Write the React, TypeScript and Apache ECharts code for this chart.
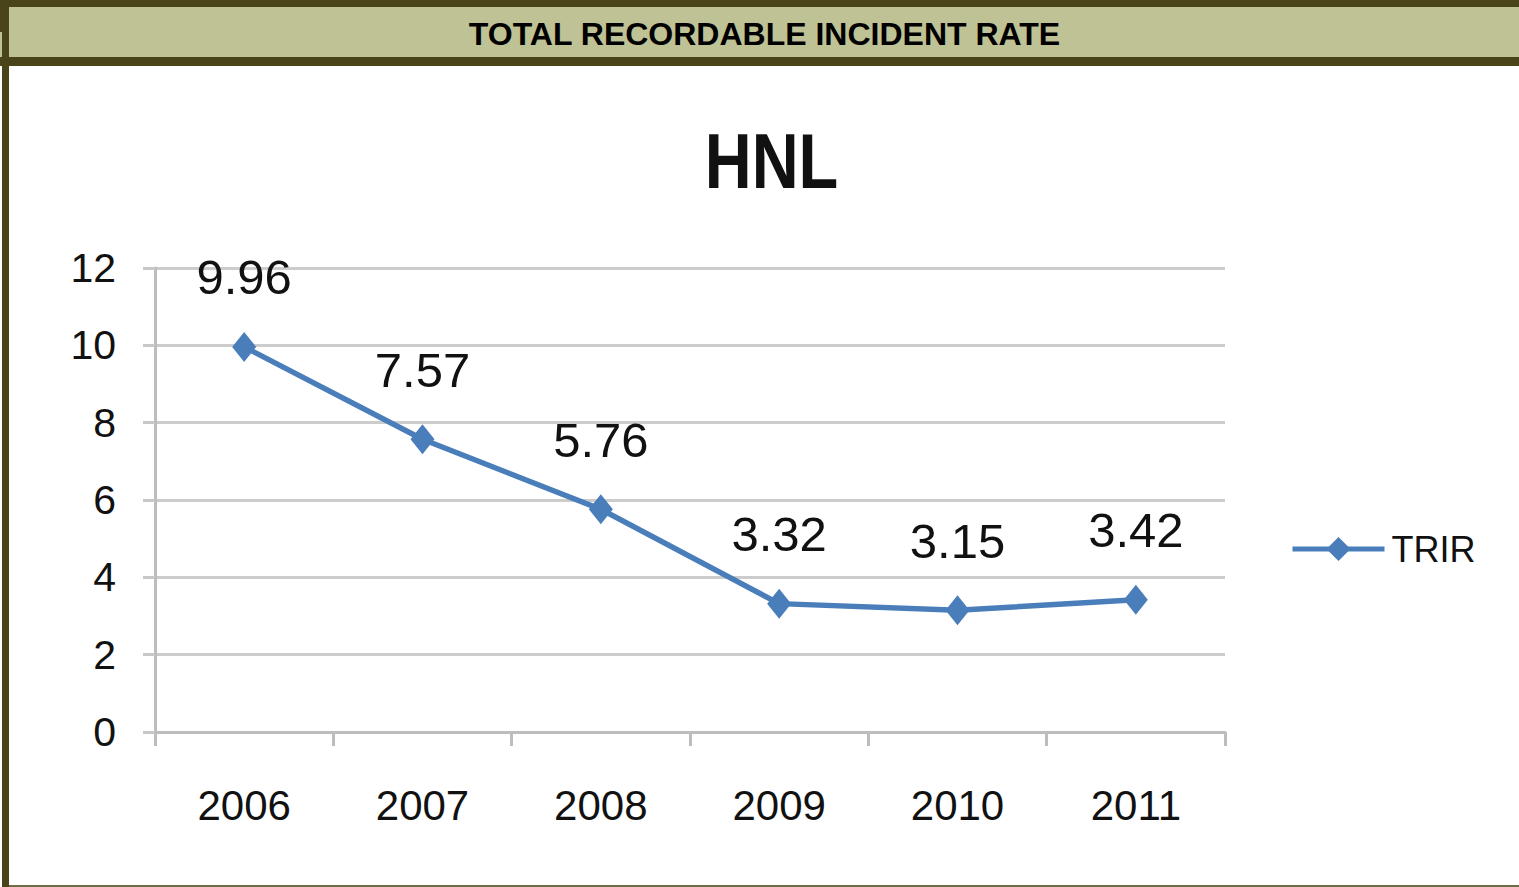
import React, { useEffect, useRef } from "react";
import * as echarts from "echarts";

const headerTitle = "TOTAL RECORDABLE INCIDENT RATE";
const chartTitle = "HNL";
const seriesName = "TRIR";
const years = ["2006", "2007", "2008", "2009", "2010", "2011"];
const trirValues = [9.96, 7.57, 5.76, 3.32, 3.15, 3.42];
const yTicks = { min: 0, max: 12, interval: 2 };

const DARK = "#4a4419";
const BAND = "#bec294";
const BLUE = "#4a7ebb";
const SANS = "'Liberation Sans', Arial, sans-serif";

export default function App() {
  const ref = useRef<HTMLDivElement>(null);
  useEffect(() => {
    if (!ref.current) return;
    const chart = echarts.init(ref.current, undefined, { renderer: "svg" });
    chart.setOption({
      animation: false,
      backgroundColor: "#ffffff",
      graphic: [
        { type: "rect", shape: { x: 0, y: 0, width: 1519, height: 7 }, style: { fill: DARK }, silent: true },
        { type: "rect", shape: { x: 0, y: 7, width: 1519, height: 50 }, style: { fill: BAND }, silent: true },
        { type: "rect", shape: { x: 0, y: 57, width: 1519, height: 9 }, style: { fill: DARK }, silent: true },
        { type: "rect", shape: { x: 0, y: 0, width: 9, height: 32 }, style: { fill: DARK }, silent: true },
        { type: "rect", shape: { x: 2, y: 32, width: 7, height: 855 }, style: { fill: DARK }, silent: true },
        { type: "rect", shape: { x: 9, y: 885, width: 1510, height: 2 }, style: { fill: "#6f6d42" }, silent: true },
        {
          type: "text",
          x: 764.5,
          y: 33.5,
          style: {
            text: headerTitle,
            fill: "#000000",
            font: "bold 32px " + SANS,
            textAlign: "center",
            textVerticalAlign: "middle",
          },
          silent: true,
        },
        {
          type: "text",
          x: 771.5,
          y: 160.5,
          scaleY: 1.2,
          style: {
            text: chartTitle,
            fill: "#111111",
            font: "bold 65px " + SANS,
            textAlign: "center",
            textVerticalAlign: "middle",
          },
          silent: true,
        },
      ],
      grid: {
        left: 155,
        right: 294,
        top: 268,
        bottom: 155,
        containLabel: false,
        outerBoundsMode: "none",
      },
      legend: {
        left: 1290,
        top: 531,
        padding: 0,
        orient: "vertical",
        itemWidth: 92,
        itemHeight: 30,
        itemGap: 0,
        data: [seriesName],
        lineStyle: { width: 5, color: BLUE },
        textStyle: {
          fontFamily: SANS,
          fontSize: 36,
          lineHeight: 36,
          color: "#111111",
          padding: [0, 0, 0, 2],
        },
      },
      xAxis: {
        type: "category",
        data: years,
        boundaryGap: true,
        axisLine: { show: true, lineStyle: { color: "#bdbdbd", width: 3 } },
        axisTick: { show: true, length: 14, lineStyle: { color: "#bdbdbd", width: 3 } },
        axisLabel: {
          margin: 52,
          fontFamily: SANS,
          fontSize: 42,
          lineHeight: 42,
          color: "#111111",
        },
        splitLine: { show: false },
      },
      yAxis: {
        type: "value",
        min: yTicks.min,
        max: yTicks.max,
        interval: yTicks.interval,
        axisLine: { show: true, lineStyle: { color: "#bdbdbd", width: 3 } },
        axisTick: { show: true, length: 12, lineStyle: { color: "#c8c8c8", width: 3 } },
        axisLabel: {
          margin: 39,
          fontFamily: SANS,
          fontSize: 41,
          lineHeight: 41,
          color: "#111111",
        },
        splitLine: { show: true, lineStyle: { color: "#cccccc", width: 3 } },
      },
      series: [
        {
          name: seriesName,
          type: "line",
          data: trirValues,
          symbol: "diamond",
          symbolSize: [24, 30],
          itemStyle: { color: BLUE },
          lineStyle: { color: BLUE, width: 5.5 },
          label: {
            show: true,
            position: "top",
            distance: 30,
            fontFamily: SANS,
            fontSize: 49,
            lineHeight: 49,
            color: "#111111",
            formatter: (p: any) => p.value.toFixed(2),
          },
        },
      ],
    });
    return () => chart.dispose();
  }, []);
  return (
    <div
      ref={ref}
      style={{ position: "fixed", left: 0, top: 0, width: 1519, height: 887 }}
    />
  );
}
